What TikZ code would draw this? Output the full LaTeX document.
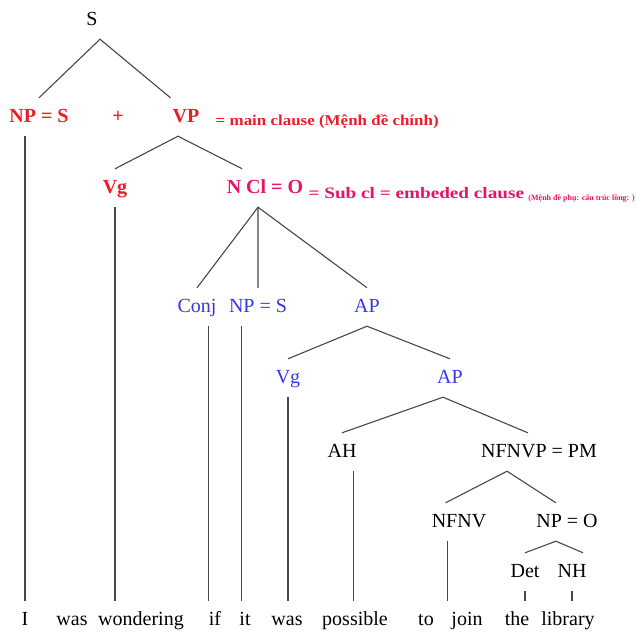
\documentclass[tikz,border=0pt]{standalone}
\usepackage{fontspec}
\setmainfont{Liberation Serif}
\usetikzlibrary{positioning}
\definecolor{mainred}{RGB}{232,30,40}
\definecolor{subpink}{RGB}{232,20,105}
\definecolor{catblue}{RGB}{55,55,230}
\tikzset{
  lab/.style={inner xsep=2pt,inner ysep=10pt,text height=14pt,text depth=4pt,font=\fontsize{20}{24}\selectfont},
  redlab/.style={lab,text=mainred,font=\fontsize{20}{24}\selectfont\bfseries},
  bluelab/.style={lab,text=catblue},
  word/.style={lab},
  note/.style={inner sep=0pt,anchor=base west},
  branch/.style={draw=black!72,line width=1.1pt}
}
\begin{document}
\begin{tikzpicture}[x=1pt,y=-1pt]
  \useasboundingbox (0,0) rectangle (637,635);
  % top level
  \node[lab] (s) at (92,20) {S};
  \node[redlab] (np1) at (39,117) {NP = S};
  \node[redlab] (plus) at (118,117) {+};
  \node[redlab] (vp) at (186,117) {VP};
  \node[note,text=mainred,font=\fontsize{15}{18}\selectfont\bfseries,right=14pt of vp.base east] (mainc) {\scalebox{1.13}[1]{= main clause (Mệnh đề chính)}};
  % main clause
  \node[redlab] (vg1) at (115,188) {Vg};
  \node[redlab,text=subpink] (ncl) at (265,188) {N Cl = O};
  \node[note,text=subpink,font=\fontsize{16}{18}\selectfont\bfseries,right=3pt of ncl.base east] (subc) {\scalebox{1.2}[1]{= Sub cl = embeded clause}};
  \node[note,text=subpink,font=\fontsize{8}{10}\selectfont\bfseries,right=4pt of subc.base east] (subs) {(Mệnh đề phụ: cấu trúc lồng: )};
  % embedded clause
  \node[bluelab] (conj) at (197,307) {Conj};
  \node[bluelab] (np2) at (258,307) {NP = S};
  \node[bluelab] (ap1) at (367,307) {AP};
  \node[bluelab] (vg2) at (288,378) {Vg};
  \node[bluelab] (ap2) at (450,378) {AP};
  \node[lab] (ah) at (342,452) {AH};
  \node[lab] (nfnvp) at (539,452) {NFNVP = PM};
  \node[lab] (nfnv) at (459,522) {NFNV};
  \node[lab] (npo) at (567,522) {NP = O};
  \node[lab] (det) at (525,572) {Det};
  \node[lab] (nh) at (572,572) {NH};
  % sentence
  \node[word] (w1) at (25,620) {I};
  \node[word] (w2) at (72,620) {was};
  \node[word] (w3) at (141,620) {wondering};
  \node[word] (w4) at (215,620) {if};
  \node[word] (w5) at (245,620) {it};
  \node[word] (w6) at (287,620) {was};
  \node[word] (w7) at (355,620) {possible};
  \node[word] (w8) at (426,620) {to};
  \node[word] (w9) at (467,620) {join};
  \node[word] (w10) at (517,620) {the};
  \node[word] (w11) at (568,620) {library};
  % branches
  \draw[branch] (np1.north) -- ([xshift=8pt]s.south) -- (vp.north west);
  \draw[branch] (vg1.north) -- ([xshift=-8pt]vp.south) -- (ncl.140);
  \draw[branch] (conj.north) -- (ncl.250) -- (ap1.north);
  \draw[branch] (ncl.250) -- (np2.north);
  \draw[branch] (vg2.north) -- (ap1.south) -- (ap2.north);
  \draw[branch] (ah.north) -- ([xshift=-7pt]ap2.south) -- (nfnvp.120);
  \draw[branch] (nfnv.125) -- (nfnvp.211) -- (npo.120);
  \draw[branch] (det.north) -- (npo.240) -- (nh.60);
  % leaves
  \draw[branch] (w1.north |- np1.south) -- (w1.north);
  \draw[branch] (vg1.south) -- (vg1.south |- w2.north);
  \draw[branch] (conj.300) -- (conj.300 |- w4.north);
  \draw[branch] (np2.230) -- (np2.230 |- w5.north);
  \draw[branch] (vg2.south) -- (vg2.south |- w6.north);
  \draw[branch] (ah.300) -- (ah.300 |- w7.north);
  \draw[branch] (nfnv.240) -- (nfnv.240 |- w9.north);
  \draw[branch] (det.south) -- (det.south |- w10.north);
  \draw[branch] (nh.south) -- (nh.south |- w11.north);
\end{tikzpicture}
\end{document}
